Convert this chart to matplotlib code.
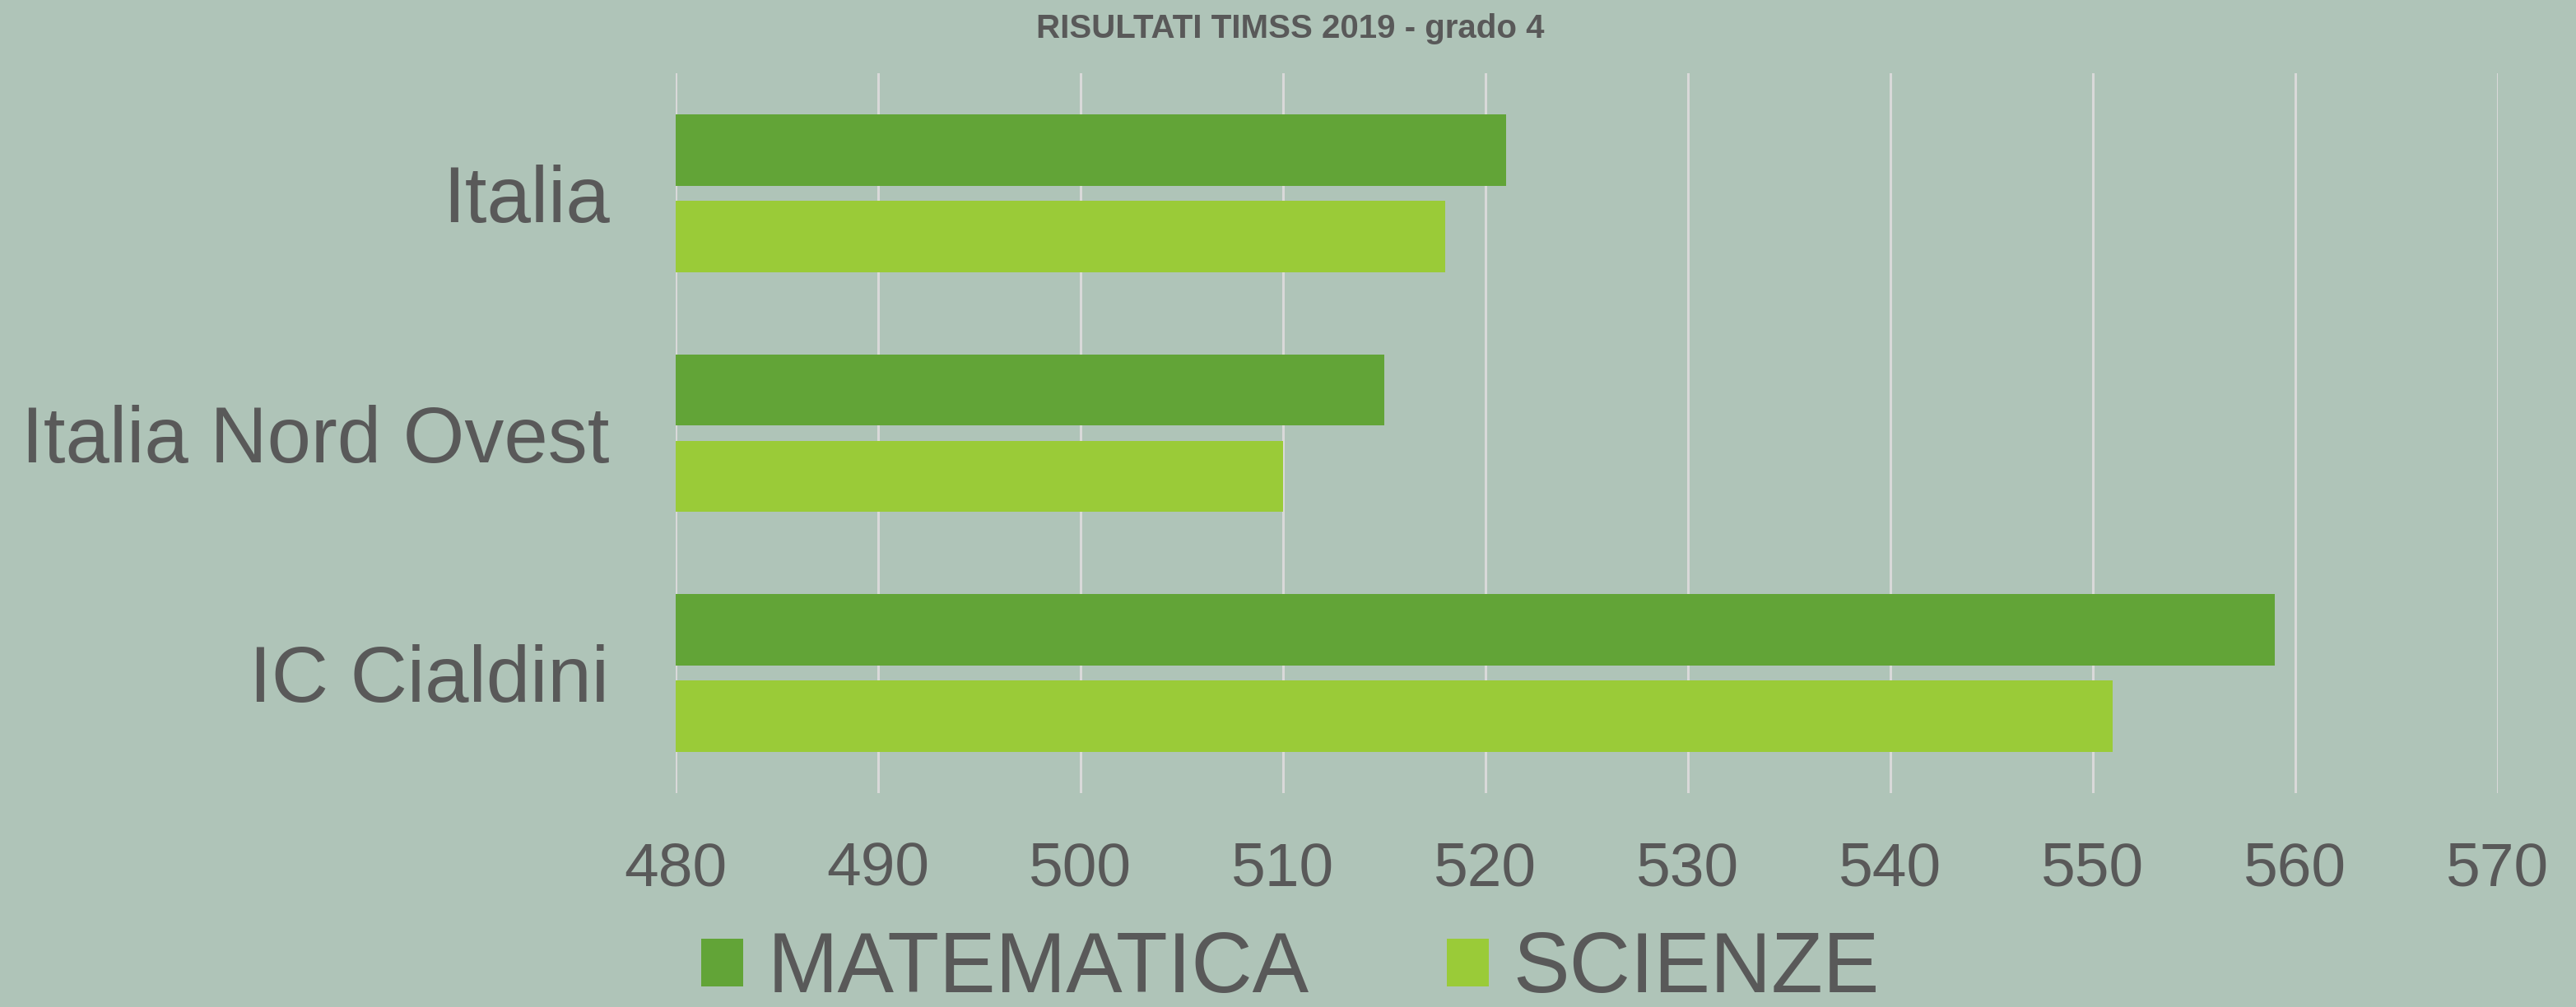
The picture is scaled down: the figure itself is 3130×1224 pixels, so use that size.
import numpy as np
import matplotlib.pyplot as plt
from matplotlib.patches import Patch

# data
categories = ["Italia", "Italia Nord Ovest", "IC Cialdini"]
matematica = [521, 515, 559]
scienze = [518, 510, 551]
series_names = ["MATEMATICA", "SCIENZE"]
x_ticks = [480, 490, 500, 510, 520, 530, 540, 550, 560, 570]

bg = "#AFC4B8"
c_mat = "#62A437"
c_sci = "#9ACB38"
txt = "#595959"
grid_c = "#D9D9D9"

plt.rcParams['font.family'] = ['Liberation Sans', 'DejaVu Sans']

fig = plt.figure(figsize=(31.3, 12.24), dpi=100, facecolor=bg)
ax = fig.add_axes([0.2623, 0.2124, 0.9696 - 0.2623, 0.9273 - 0.2124])
ax.set_facecolor(bg)

y = np.arange(len(categories))
h = 0.298
off = 0.18
base = x_ticks[0]
ax.barh(y - off, np.array(matematica) - base, left=base, height=h, color=c_mat, zorder=3)
ax.barh(y + off, np.array(scienze) - base, left=base, height=h, color=c_sci, zorder=3)

ax.set_xlim(x_ticks[0], x_ticks[-1])
ax.set_ylim(2.5, -0.5)
ax.set_xticks(x_ticks)
ax.set_yticks(y)
ax.set_yticklabels(categories)
ax.tick_params(axis='y', length=0, pad=58, labelsize=69, labelcolor=txt)
ax.tick_params(axis='x', length=0, pad=42, labelsize=54, labelcolor=txt)
ax.grid(axis='x', color=grid_c, linewidth=2.2, zorder=0)
for s in ax.spines.values():
    s.set_visible(False)

fig.text(0.501, 0.971, "RISULTATI TIMSS 2019 - grado 4", ha='center', va='center',
         fontsize=29, fontweight='bold', color=txt)

handles = [Patch(facecolor=c_mat), Patch(facecolor=c_sci)]
leg = fig.legend(handles, series_names, loc='center', bbox_to_anchor=(0.501, 0.036),
                 ncol=2, frameon=False, fontsize=74, handlelength=0.49, handleheight=0.49,
                 handletextpad=0.29, columnspacing=1.63, labelcolor=txt)

fig.savefig("out.png", dpi=100, facecolor=bg)
